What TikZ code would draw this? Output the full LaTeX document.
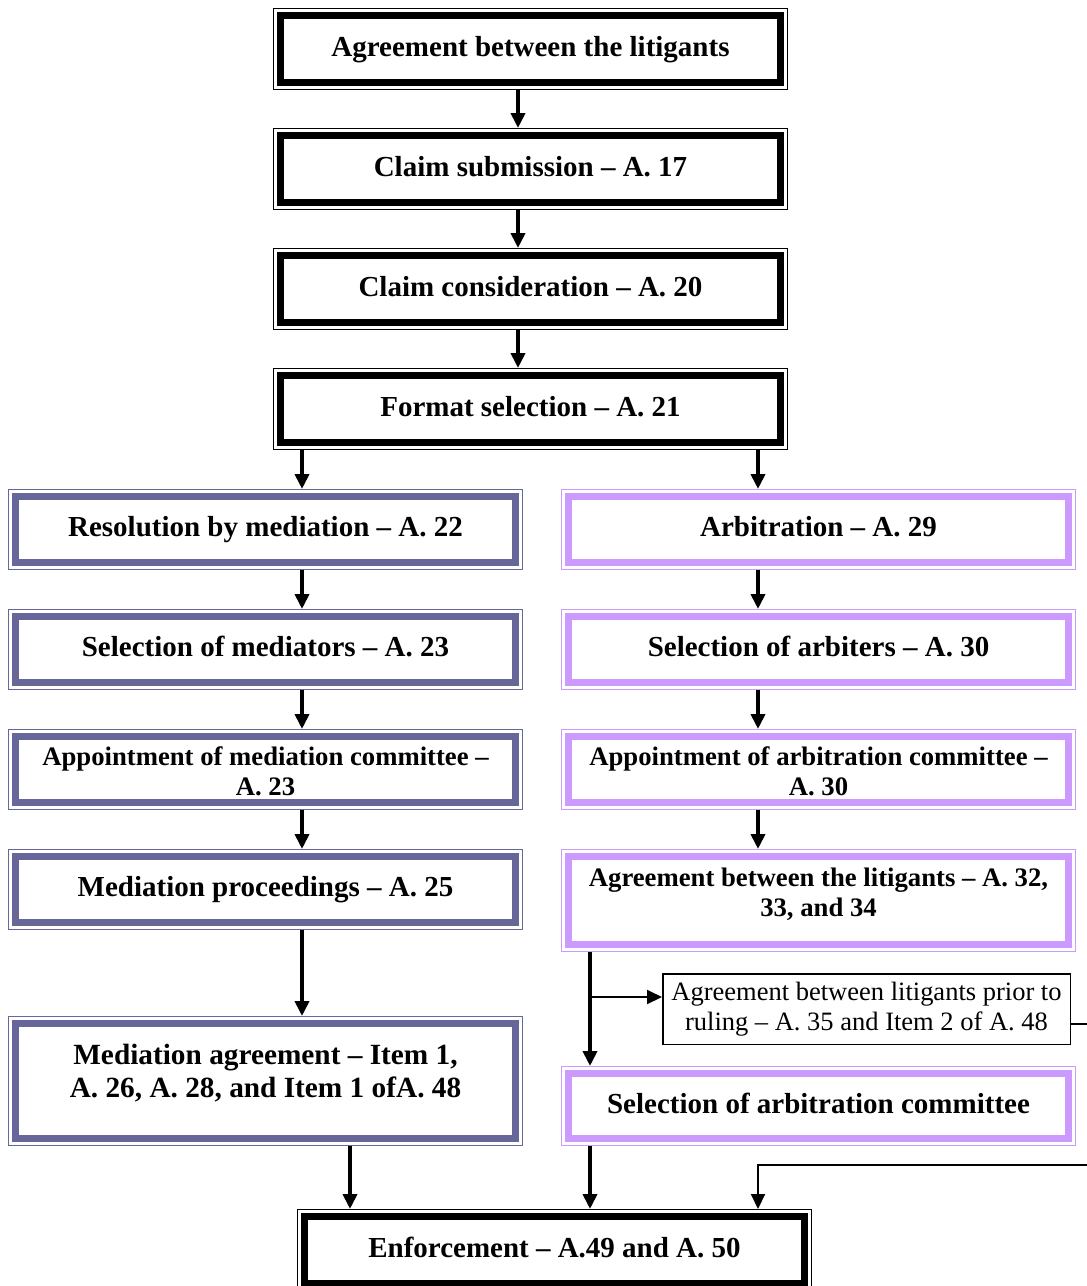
\documentclass[tikz,border=0pt]{standalone}
\usepackage{fontspec}
\setmainfont{Liberation Serif}
\usetikzlibrary{arrows.meta}
\definecolor{medc}{HTML}{666699}
\definecolor{arbc}{HTML}{CC99FF}
\begin{document}
\begin{tikzpicture}[x=1pt,y=-1pt,
  frm/.style={draw=#1, fill=white, line width=7pt, minimum width=500pt, minimum height=66.6pt,
     inner sep=0pt, outer sep=7.7pt,
     preaction={draw=#1, line width=15.4pt},
     preaction={draw=white, line width=13pt},
     font=\fontsize{29}{30}\selectfont\bfseries, text height=20pt, text depth=6pt},
  topbox/.style={frm=black},
  medbox/.style={frm=medc, minimum height=65.6pt},
  arbbox/.style={frm=arbc, minimum height=65.6pt},
  lbl/.style={font=\fontsize{26.7}{30}\selectfont\bfseries, align=center, inner sep=0pt},
  note/.style={draw=black, line width=1.5pt, fill=white, minimum width=407.5pt, minimum height=70.5pt,
     inner sep=0pt, outer sep=0.75pt, align=center, font=\fontsize{26.5}{30}\selectfont},
  arr/.style={line width=4.5pt, -{Triangle[width=14pt,length=15pt]}},
  tarr/.style={line width=2pt, -{Triangle[width=14pt,length=15pt]}},
]
\fill[white] (0,0) rectangle (1087,1286);
\useasboundingbox (0,0) rectangle (1087,1286);

% top column
\node[topbox] (b1) at (530.5,49) {Agreement between the litigants};
\node[topbox] (b2) at (530.5,169) {Claim submission – A. 17};
\node[topbox] (b3) at (530.5,289) {Claim consideration – A. 20};
\node[topbox] (b4) at (530.5,409) {Format selection – A. 21};

% left column
\node[medbox] (l1) at (265.5,529.5) {Resolution by mediation – A. 22};
\node[medbox] (l2) at (265.5,649.5) {Selection of mediators – A. 23};
\node[medbox] (l3) at (265.5,769.5) {};
\node[lbl] (l3t) at (265.5,771) {Appointment of mediation committee –\\A. 23};
\node[medbox] (l4) at (265.5,889.5) {Mediation proceedings – A. 25};
\node[medbox, minimum height=114.6pt] (l5) at (265.5,1081) {};
\node[lbl, font=\fontsize{29.3}{33}\selectfont\bfseries] (l5t) at (265.5,1073) {Mediation agreement – Item 1,\\A. 26, A. 28, and Item 1 ofA. 48};

% right column
\node[arbbox] (r1) at (818.5,529.5) {Arbitration – A. 29};
\node[arbbox] (r2) at (818.5,649.5) {Selection of arbiters – A. 30};
\node[arbbox] (r3) at (818.5,769.5) {};
\node[lbl] (r3t) at (818.5,771) {Appointment of arbitration committee –\\A. 30};
\node[arbbox, minimum height=87.6pt] (r4) at (818.5,900.5) {};
\node[lbl] (r4t) at (818.5,894) {Agreement between the litigants – A. 32,\\33, and 34};
\node[note] (nt) at (866.5,1009) {Agreement between litigants prior to\\ruling – A. 35 and Item 2 of A. 48};
\node[arbbox, minimum height=64.6pt] (r5) at (818.5,1106) {Selection of arbitration committee};

% enforcement
\node[topbox] (enf) at (554.5,1250) {Enforcement – A.49 and A. 50};

% connectors
\coordinate (cx) at (518,0);
\coordinate (xl) at (302,0);
\coordinate (xr) at (758,0);
\coordinate (xa) at (590,0);
\coordinate (xm) at (350,0);
\coordinate (br) at (590,997);
\coordinate (o1) at (1110,1024);
\coordinate (o2) at (1110,1165);

\draw[arr] (b1.south -| cx) -- (b2.north -| cx);
\draw[arr] (b2.south -| cx) -- (b3.north -| cx);
\draw[arr] (b3.south -| cx) -- (b4.north -| cx);
\draw[arr] (b4.south -| xl) -- (l1.north -| xl);
\draw[arr] (b4.south -| xr) -- (r1.north -| xr);

\draw[arr] (l1.south -| xl) -- (l2.north -| xl);
\draw[arr] (l2.south -| xl) -- (l3.north -| xl);
\draw[arr] (l3.south -| xl) -- (l4.north -| xl);
\draw[arr] (l4.south -| xl) -- (l5.north -| xl);

\draw[arr] (r1.south -| xr) -- (r2.north -| xr);
\draw[arr] (r2.south -| xr) -- (r3.north -| xr);
\draw[arr] (r3.south -| xr) -- (r4.north -| xr);
\draw[arr] (r4.south -| xa) -- (r5.north -| xa);
\draw[tarr] (br) -- (br -| nt.west);

\draw[arr] (l5.south -| xm) -- (enf.north -| xm);
\draw[arr] (r5.south -| xa) -- (enf.north -| xa);
\draw[tarr] (nt.east |- o1) -- (o1) -- (o2) -- (o2 -| xr) -- (enf.north -| xr);
\end{tikzpicture}
\end{document}
